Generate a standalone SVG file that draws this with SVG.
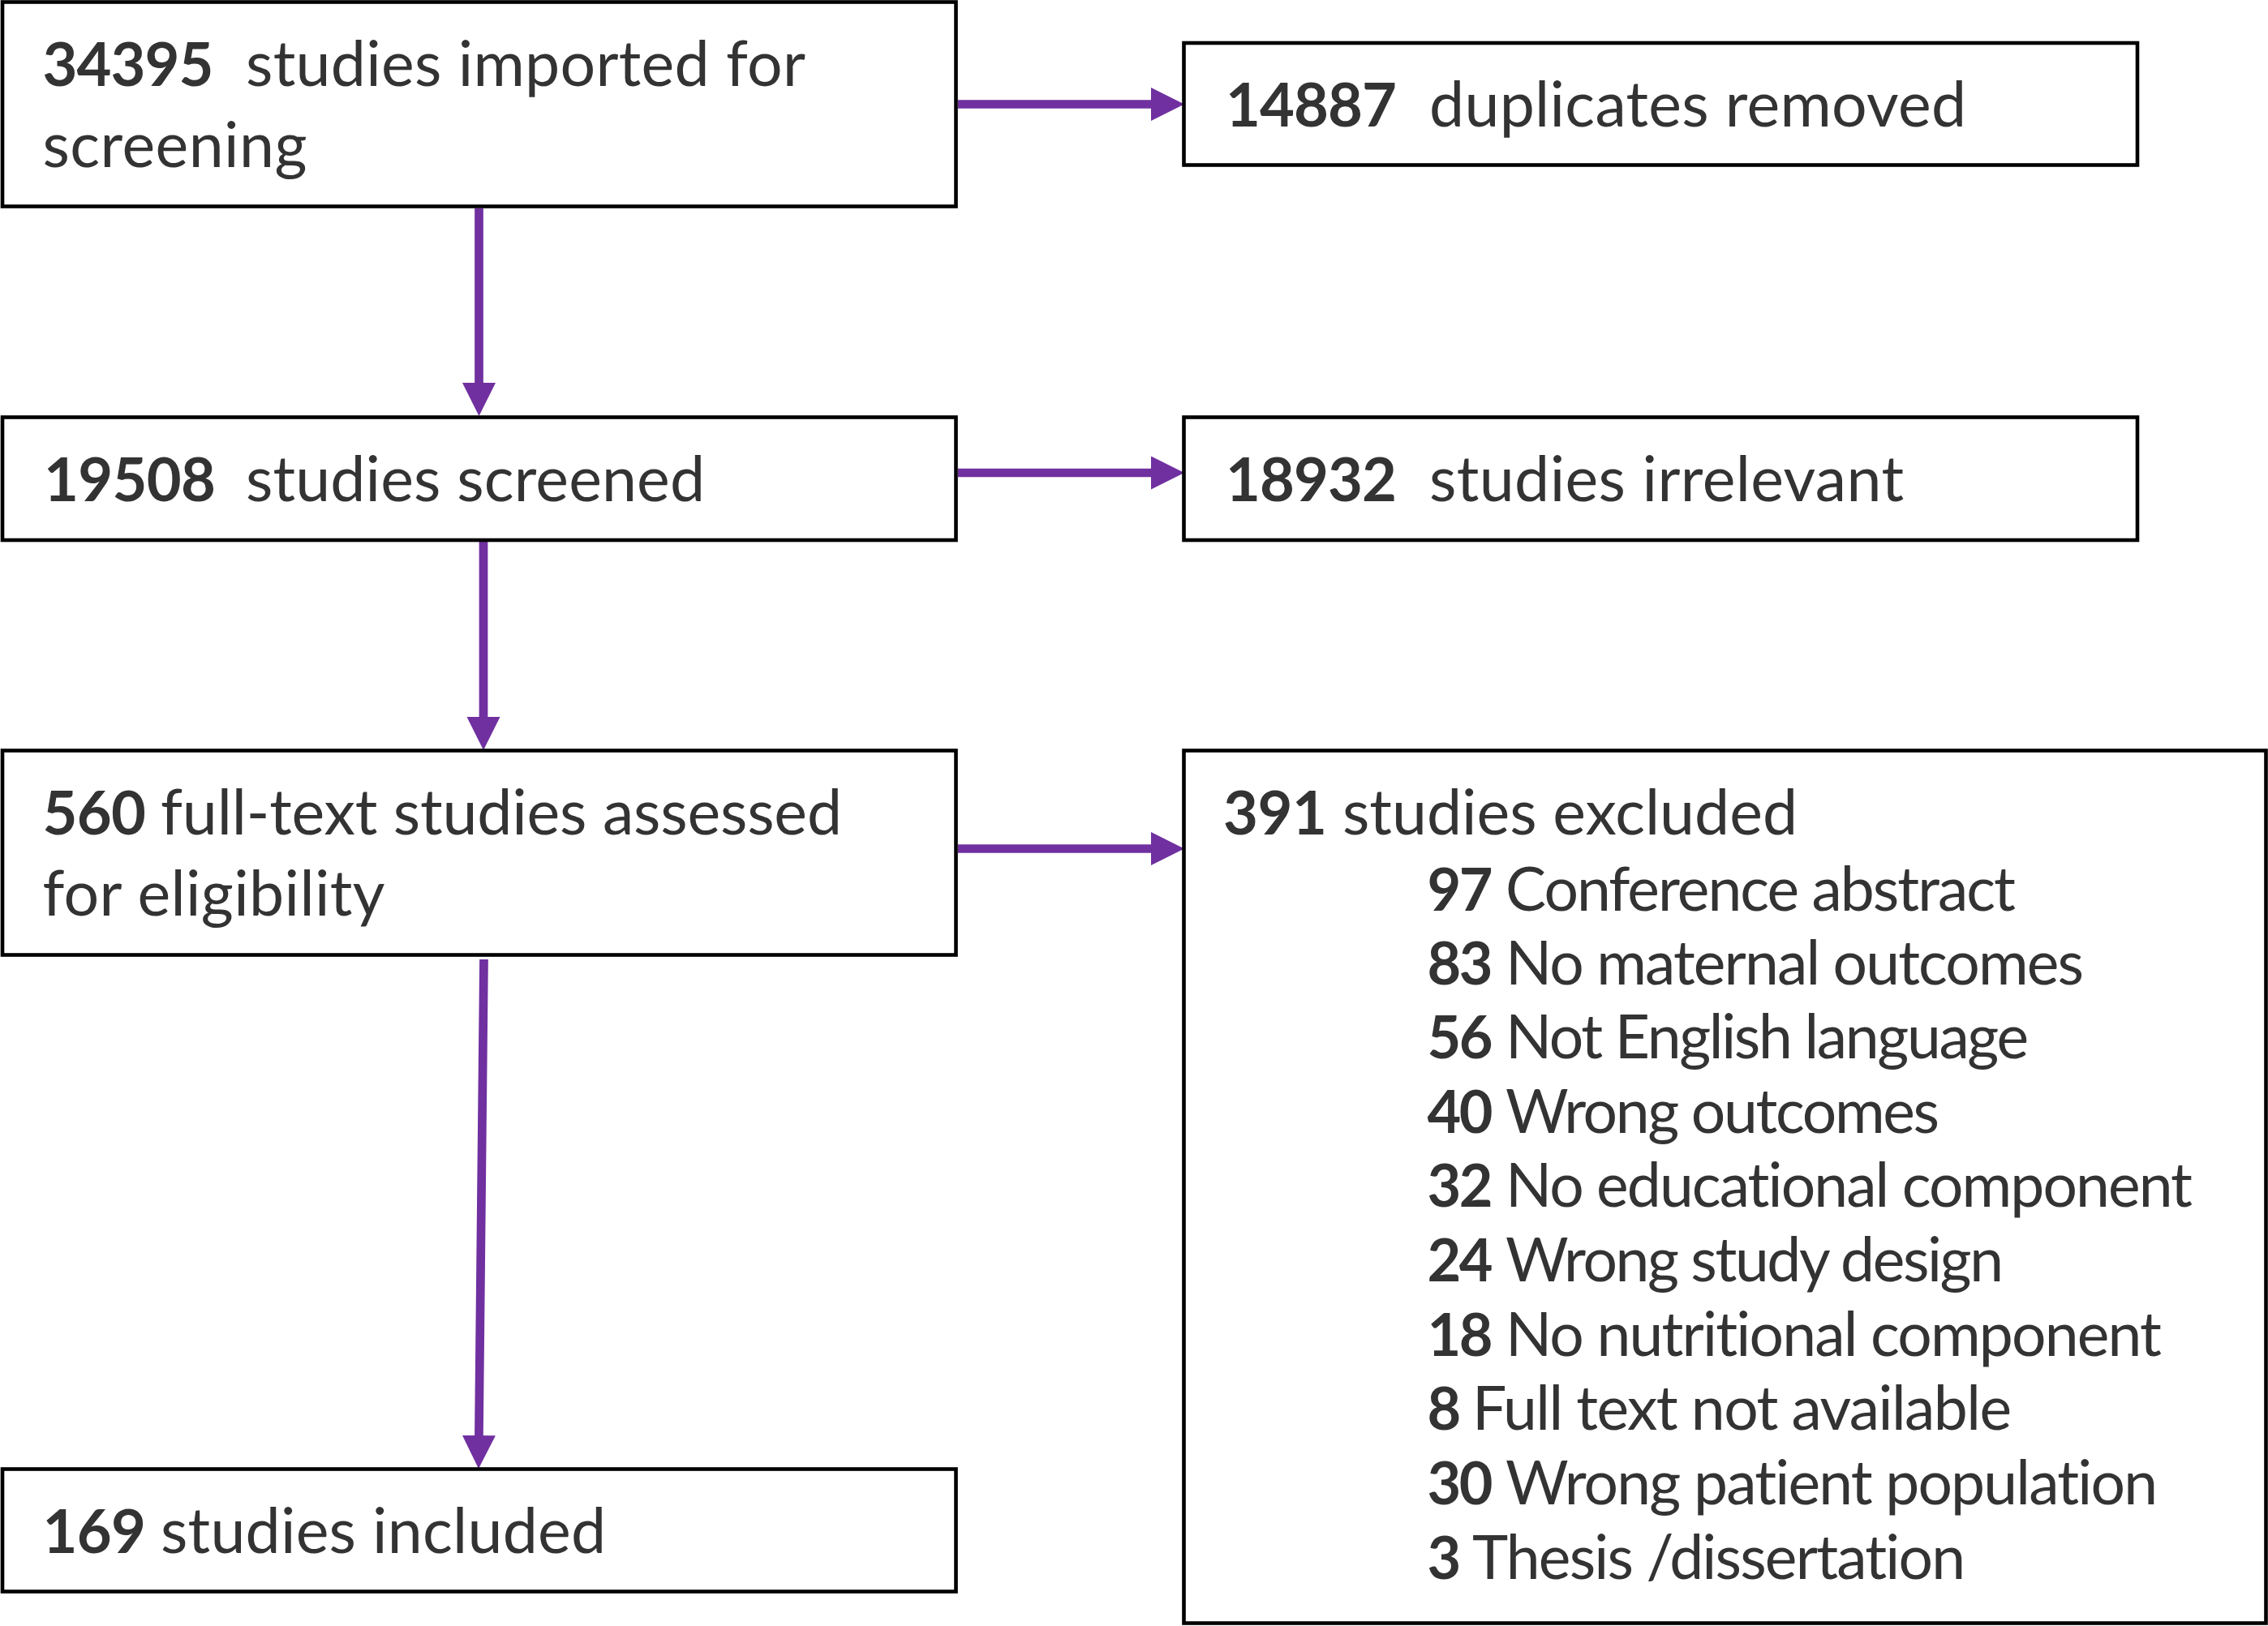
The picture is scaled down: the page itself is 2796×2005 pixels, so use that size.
<svg xmlns="http://www.w3.org/2000/svg" width="2796" height="2005" viewBox="0 0 2796 2005">
<style>
.box{fill:#ffffff;stroke:#000000;stroke-width:4.6}
.t{font-family:Lato,"Liberation Sans",sans-serif;font-size:77px;fill:#333333;font-variant-ligatures:none}
.s{font-family:Lato,"Liberation Sans",sans-serif;font-size:75px;fill:#333333;font-variant-ligatures:none}
.t .b{font-weight:bold;font-size:74px}
.s .b{font-weight:bold;font-size:72px}
.c{stroke:#7030A0;stroke-width:10.7;fill:none;marker-end:url(#ah)}
</style>
<defs>
<marker id="ah" markerUnits="userSpaceOnUse" markerWidth="42" markerHeight="42" refX="11" refY="20.5" orient="auto" viewBox="0 0 42 42">
<path d="M0,0 L41,20.5 L0,41 Z" fill="#7030A0"/>
</marker>
</defs>
<rect width="2796" height="2005" fill="#ffffff"/>
<g id="connectors">
<line class="c" x1="1181" y1="128.5" x2="1430" y2="128.5"/>
<line class="c" x1="590.5" y1="257" x2="590.5" y2="483"/>
<line class="c" x1="1181" y1="583" x2="1430" y2="583"/>
<line class="c" x1="596" y1="668" x2="596" y2="895"/>
<line class="c" x1="1181" y1="1046.5" x2="1430" y2="1046.5"/>
<line class="c" x1="596.5" y1="1183" x2="590.3" y2="1781"/>
</g>
<g id="n1">
<rect class="box" x="3" y="2.5" width="1175.5" height="252"/>
<text class="t" y="106"><tspan class="b" x="52.5" textLength="211">34395</tspan><tspan x="303" textLength="690">studies imported for</tspan></text>
<text class="t" x="52.5" y="206" textLength="326">screening</text>
</g>
<g id="n2">
<rect class="box" x="1459.5" y="53" width="1175.5" height="150.5"/>
<text class="t" y="156"><tspan class="b" x="1511" textLength="211">14887</tspan><tspan x="1762" textLength="662">duplicates removed</tspan></text>
</g>
<g id="n3">
<rect class="box" x="3" y="514.5" width="1175.5" height="151.5"/>
<text class="t" y="618"><tspan class="b" x="54" textLength="212">19508</tspan><tspan x="303" textLength="566">studies screened</tspan></text>
</g>
<g id="n4">
<rect class="box" x="1459.5" y="514.5" width="1175.5" height="151.5"/>
<text class="t" y="618"><tspan class="b" x="1511" textLength="211">18932</tspan><tspan x="1762" textLength="585">studies irrelevant</tspan></text>
</g>
<g id="n5">
<rect class="box" x="3" y="925.5" width="1175.5" height="252"/>
<text class="t" y="1029"><tspan class="b" x="52.5" textLength="127.5">560</tspan><tspan x="198" textLength="840">full-text studies assessed</tspan></text>
<text class="t" x="52.5" y="1129" textLength="422">for eligibility</text>
</g>
<g id="n6">
<rect class="box" x="3" y="1811.5" width="1175.5" height="151"/>
<text class="t" y="1915"><tspan class="b" x="52.5" textLength="127.5">169</tspan><tspan x="198" textLength="549">studies included</tspan></text>
</g>
<g id="n7">
<rect class="box" x="1459.5" y="925.5" width="1334" height="1076"/>
<text class="t" y="1029"><tspan class="b" x="1508" textLength="128">391</tspan><tspan x="1655" textLength="561">studies excluded</tspan></text>
<text class="s" y="1123"><tspan class="b" x="1759.5" textLength="81">97</tspan><tspan x="1856" textLength="629">Conference abstract</tspan></text>
<text class="s" y="1214"><tspan class="b" x="1759.5" textLength="81">83</tspan><tspan x="1856" textLength="713">No maternal outcomes</tspan></text>
<text class="s" y="1305"><tspan class="b" x="1759.5" textLength="81">56</tspan><tspan x="1856" textLength="645">Not English language</tspan></text>
<text class="s" y="1397"><tspan class="b" x="1759.5" textLength="81">40</tspan><tspan x="1856" textLength="535">Wrong outcomes</tspan></text>
<text class="s" y="1488"><tspan class="b" x="1759.5" textLength="81">32</tspan><tspan x="1856" textLength="847">No educational component</tspan></text>
<text class="s" y="1580"><tspan class="b" x="1759.5" textLength="81">24</tspan><tspan x="1856" textLength="614">Wrong study design</tspan></text>
<text class="s" y="1672"><tspan class="b" x="1759.5" textLength="81">18</tspan><tspan x="1856" textLength="809">No nutritional component</tspan></text>
<text class="s" y="1763"><tspan class="b" x="1759.5" textLength="42">8</tspan><tspan x="1815" textLength="665">Full text not available</tspan></text>
<text class="s" y="1855"><tspan class="b" x="1759.5" textLength="81">30</tspan><tspan x="1856" textLength="804">Wrong patient population</tspan></text>
<text class="s" y="1946.5"><tspan class="b" x="1759.5" textLength="42">3</tspan><tspan x="1815" textLength="608">Thesis /dissertation</tspan></text>
</g>
</svg>
